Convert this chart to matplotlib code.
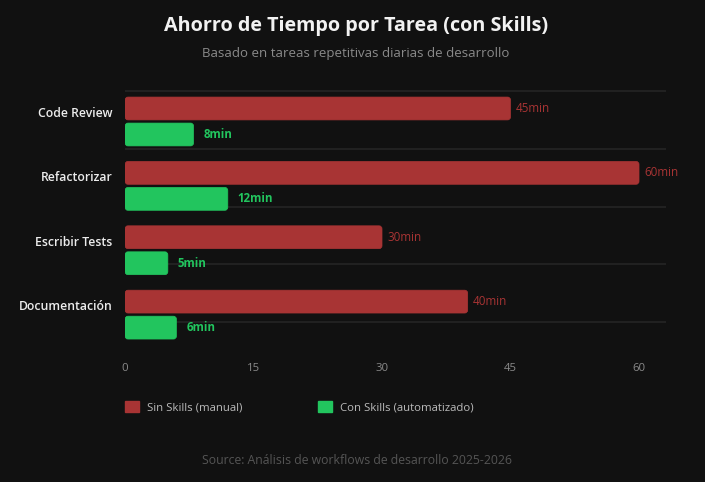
import numpy as np
import matplotlib
matplotlib.use("Agg")
import matplotlib.pyplot as plt
from matplotlib.patches import FancyBboxPatch, Patch

categories = ["Code Review", "Refactorizar", "Escribir Tests", "Documentación"]
sin_skills = [45, 60, 30, 40]
con_skills = [8, 12, 5, 6]
xticks = [0, 15, 30, 45, 60]
series_names = ["Sin Skills (manual)", "Con Skills (automatizado)"]

BG = "#111111"
RED = "#a83434"
GREEN = "#22c55e"

plt.rcParams['font.family'] = ['Open Sans', 'DejaVu Sans']

W, H = 705, 482
fig = plt.figure(figsize=(W / 100, H / 100), dpi=100, facecolor=BG)
ax_l, ax_r, ax_t, ax_b = 125, 666, 89.3, 346.8
ax = fig.add_axes([ax_l / W, 1 - ax_b / H, (ax_r - ax_l) / W, (ax_b - ax_t) / H])
ax.set_facecolor(BG)

xmax = 63.15
ax.set_xlim(0, xmax)
ax.set_ylim(3.5, -0.5)

y = np.arange(len(categories))
off = 0.202
h = 0.355

# horizontal grid lines
for gy in np.linspace(-0.474, 3.118, 5):
    ax.axhline(gy, color="#262626", lw=1.1, zorder=0)

bars_r = ax.barh(y - off, sin_skills, height=h, color=RED)
bars_g = ax.barh(y + off, con_skills, height=h, color=GREEN)

# replace with rounded bars
px_x = xmax / (ax_r - ax_l)
px_y = 4.0 / (ax_b - ax_t)
for bars in (bars_r, bars_g):
    for b in bars:
        x0, y0 = b.get_x(), b.get_y()
        w, hh = b.get_width(), b.get_height()
        fc = b.get_facecolor()
        b.set_visible(False)
        p = FancyBboxPatch((x0, y0), w, hh,
                           boxstyle=f"round,pad=0,rounding_size={3 * px_x}",
                           mutation_aspect=px_y / px_x,
                           facecolor=fc, edgecolor=fc, lw=0.5, zorder=2)
        ax.add_patch(p)

for yi, v in zip(y, sin_skills):
    ax.text(v + 5 * px_x, yi - off, f"{v}min", color=RED, fontsize=8.4,
            va="center", ha="left")
for yi, v in zip(y, con_skills):
    ax.text(v + 10 * px_x, yi + off, f"{v}min", color=GREEN, fontsize=8.3,
            fontweight="bold", va="center", ha="left")

ax.set_yticks(y - off + 3.5 * px_y)
ax.set_yticklabels(categories, color="#ececec", fontsize=8.8, fontweight="semibold")
ax.set_xticks(xticks)
ax.set_xticklabels([str(t) for t in xticks], color="#8a8a8a", fontsize=8.2)
ax.tick_params(axis="y", length=0, pad=9)
ax.tick_params(axis="x", length=0, pad=12)
for s in ax.spines.values():
    s.set_visible(False)

cx = 356 / W
fig.text(cx, 1 - 26 / H, "Ahorro de Tiempo por Tarea (con Skills)", ha="center",
         va="center", color="#f2f2f2", fontsize=14.2, fontweight="bold")
fig.text(cx, 1 - 54 / H, "Basado en tareas repetitivas diarias de desarrollo",
         ha="center", va="center", color="#8a8a8a", fontsize=9.5)
fig.text(357 / W, 1 - 461 / H, "Source: Análisis de workflows de desarrollo 2025-2026",
         ha="center", va="center", color="#555555", fontsize=8.8)

handles = [Patch(facecolor=RED, edgecolor=RED), Patch(facecolor=GREEN, edgecolor=GREEN)]
leg = fig.legend(handles, series_names, loc="center left",
                 bbox_to_anchor=(115 / W, 1 - 407 / H), ncol=2, frameon=False,
                 handlelength=1.2, handleheight=1.2, handletextpad=0.75,
                 columnspacing=6.6, fontsize=8.2, labelcolor="#bbbbbb")

fig.savefig("out.png", dpi=100, facecolor=BG)
